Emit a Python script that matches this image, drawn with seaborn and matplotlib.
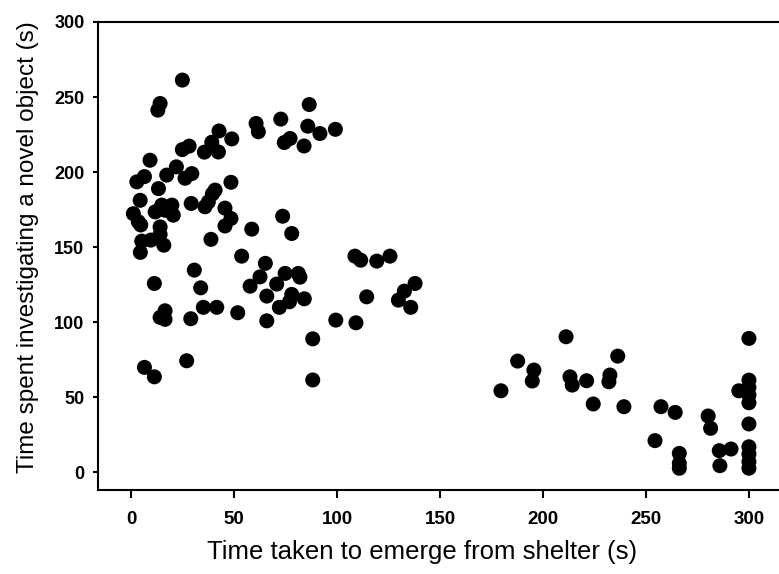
import matplotlib
matplotlib.use("Agg")
import matplotlib.pyplot as plt
import seaborn as sns
import pandas as pd

# Time taken to emerge from shelter (s)
emerge_time = [
    24.9, 14.1, 13.0, 86.5, 72.7, 60.7, 61.8, 85.8, 91.7, 99.2,
    77.2, 74.4, 84.0, 42.7, 48.9, 39.2, 42.4, 35.6, 28.2, 24.9,
    9.2, 22.0, 29.5, 26.2, 17.3, 6.5, 2.8, 13.3, 48.5, 40.8,
    37.5, 35.9, 29.2, 4.4, 14.9, 19.8, 11.7, 16.5, 20.5, 1.1,
    3.5, 4.7, 45.6, 48.5, 45.6, 14.1, 14.1, 15.9, 9.6, 5.2,
    4.5, 38.8, 58.6, 73.6, 78.0, 53.7, 65.2, 30.7, 39.5,
    11.3, 33.8, 57.8, 62.6, 74.8, 81.2, 82.0, 70.7, 65.9, 78.0,
    76.9, 84.1, 72.0, 35.1, 41.6, 16.5, 14.1, 16.5, 29.0, 51.8,
    65.9, 99.4, 88.2, 88.2, 6.5, 11.3, 27.0,
    108.7, 111.5, 119.3, 125.7, 114.4, 129.8, 132.7, 137.9, 135.8, 109.2,
    187.7, 195.6, 194.8, 179.6, 211.2, 213.1, 214.2, 221.2, 232.5, 232.0,
    236.3, 224.4, 239.3, 254.4, 257.3, 264.2, 266.2, 266.2, 266.2, 280.2,
    281.4, 285.6, 291.3, 285.9, 295.1,
    300.0, 300.0, 300.0, 300.0, 300.0, 300.0, 300.0, 300.0, 300.0, 300.0,
]

# Time spent investigating a novel object (s)
novel_object_time = [
    261.3, 245.7, 241.3, 245.0, 235.3, 232.4, 226.9, 230.6, 225.7, 228.5,
    222.4, 219.7, 217.4, 227.4, 222.1, 219.9, 213.4, 213.3, 217.3, 215.0,
    207.9, 203.5, 199.0, 195.9, 198.0, 197.0, 193.5, 189.0, 193.2, 188.0,
    180.1, 176.9, 179.1, 181.2, 178.0, 178.0, 173.5, 174.6, 171.3, 172.3,
    166.9, 164.8, 176.0, 169.1, 164.1, 163.5, 158.5, 151.3, 154.7, 154.0,
    146.5, 155.2, 162.0, 170.6, 159.1, 144.0, 139.2, 134.7, 185.5,
    125.8, 122.9, 124.0, 130.2, 132.5, 132.5, 130.0, 125.4, 117.4, 118.5,
    113.6, 115.6, 109.9, 109.9, 109.9, 107.6, 103.2, 101.9, 102.3, 106.3,
    100.9, 101.4, 88.9, 61.5, 69.9, 63.6, 74.3,
    144.0, 141.3, 140.7, 144.0, 116.9, 114.7, 120.7, 125.8, 109.9, 99.6,
    74.1, 68.1, 60.8, 54.3, 90.3, 63.6, 58.1, 61.0, 64.8, 60.3,
    77.4, 45.5, 43.7, 21.1, 43.7, 39.9, 12.6, 6.0, 2.7, 37.5,
    29.3, 14.4, 15.5, 4.4, 54.3,
    89.2, 61.4, 56.6, 51.5, 46.3, 32.2, 17.0, 12.2, 7.1, 2.7,
]

x_ticks = [0, 50, 100, 150, 200, 250, 300]
y_ticks = [0, 50, 100, 150, 200, 250, 300]

df = pd.DataFrame({"emerge": emerge_time, "novel": novel_object_time})

sns.set_style("white")
plt.rcParams["font.family"] = ["Liberation Sans", "DejaVu Sans"]

fig = plt.figure(figsize=(7.79, 5.74), dpi=100)
ax = fig.add_axes([97.5 / 779, 1 - 490 / 574, 1 - 97.5 / 779, (490 - 22) / 574])

sns.scatterplot(data=df, x="emerge", y="novel", ax=ax, color="black",
                s=117, linewidth=0, edgecolor="none", clip_on=False)

ax.set_xlim(-16.3, 314.6)
ax.set_ylim(-11.8, 300)
ax.set_xticks(x_ticks)
ax.set_yticks(y_ticks)
ax.set_xticklabels([str(v) for v in x_ticks], fontsize=13.5, fontweight="bold")
ax.set_yticklabels([str(v) for v in y_ticks], fontsize=13, fontweight="bold")

for side in ["left", "bottom", "top"]:
    ax.spines[side].set_visible(True)
    ax.spines[side].set_color("black")
    ax.spines[side].set_linewidth(1.5)
ax.spines["right"].set_visible(False)

ax.tick_params(axis="x", direction="out", length=6, width=1.5, pad=9,
               bottom=True, colors="black")
ax.tick_params(axis="y", direction="out", length=3.6, width=1.5, pad=5.8,
               left=True, colors="black")

ax.set_xlabel("Time taken to emerge from shelter (s)", fontsize=18.5, color="black")
ax.set_ylabel("Time spent investigating a novel object (s)", fontsize=17.5, color="black")
ax.xaxis.label.set_va("center")
ax.yaxis.label.set_va("center")
ax.xaxis.set_label_coords((422 - 97.5) / 681.5, (490 - 552) / 468)
ax.yaxis.set_label_coords((28 - 97.5) / 681.5, (490 - 247) / 468)

fig.savefig("out.png", dpi=100)
